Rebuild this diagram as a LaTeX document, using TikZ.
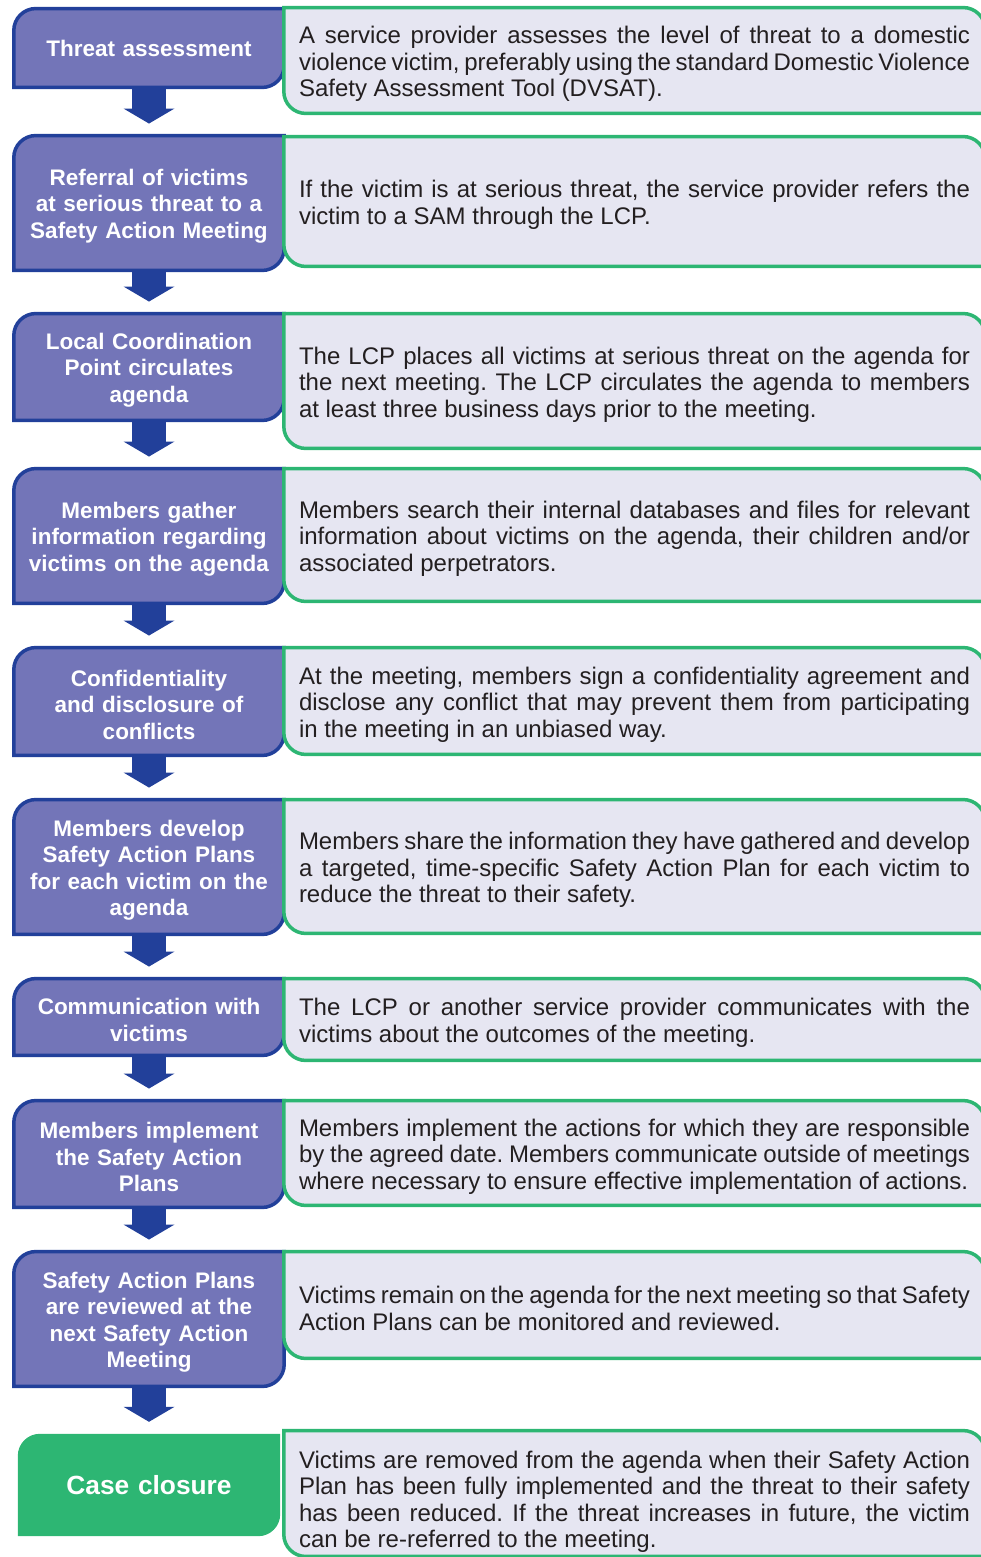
\documentclass[tikz,border=0pt]{standalone}
\usepackage{fontspec}
\setmainfont{Liberation Sans}
\usepackage{xcolor}
\usetikzlibrary{arrows.meta,backgrounds}

\definecolor{stepfill}{HTML}{7375B8}
\definecolor{stepline}{HTML}{22409A}
\definecolor{descfill}{HTML}{E6E6F2}
\definecolor{descline}{HTML}{2DB673}
\definecolor{desctext}{HTML}{231F20}

\hyphenpenalty=10000
\exhyphenpenalty=10000
\frenchspacing

\begin{document}
\begin{tikzpicture}[
    x=1pt, y=-1pt,
    stepbase/.style={minimum width=270pt, inner xsep=4pt, inner ysep=0pt, text width=262pt,
      text=white, font=\bfseries\fontsize{22.5}{26.5}\selectfont, align=center},
    stepbox/.style={stepbase, execute at begin node=\rule{0pt}{1em}},
    closebox/.style={stepbase, minimum width=262pt, text width=254pt,
      font=\bfseries\fontsize{26.3}{30}\selectfont},
    descbox/.style={minimum width=701pt, inner xsep=15pt, inner ysep=0pt, text width=671pt,
      text=desctext, font=\fontsize{24}{26.5}\selectfont, align=justify,
      execute at begin node=\rule{0pt}{1em}},
    stepedge/.style={draw=stepline, fill=stepfill, line width=3.5pt},
    descedge/.style={draw=descline, fill=descfill, line width=3.5pt},
    flowarrow/.style={draw, color=stepline, line width=34pt, shorten >=12pt,
      -{Triangle[width=51pt, length=15pt, line width=0pt]}}
  ]
  \useasboundingbox (0,0) rectangle (980,1557);

  % steps (left column)
  \node[stepbase, minimum height=78.5pt] (s1) at (149,48) {Threat assessment};
  \node[stepbox, minimum height=134.5pt] (s2) at (149,203) {Referral of victims\\at serious threat to a\\Safety Action Meeting};
  \node[stepbox, minimum height=106.5pt] (s3) at (149,367) {Local Coordination\\Point circulates\\agenda};
  \node[stepbox, minimum height=134.5pt] (s4) at (149,536) {Members gather\\information regarding\\victims on the agenda};
  \node[stepbox, minimum height=107.5pt] (s5) at (149,701.5) {Confidentiality\\and disclosure of\\conflicts};
  \node[stepbox, minimum height=134.5pt] (s6) at (149,867) {Members develop\\Safety Action Plans\\for each victim on the\\agenda};
  \node[stepbox, minimum height=76.5pt] (s7) at (149,1017) {Communication with\\victims};
  \node[stepbox, minimum height=106.5pt] (s8) at (149,1154) {Members implement\\the Safety Action\\Plans};
  \node[stepbox, minimum height=134.5pt] (s9) at (149,1319) {Safety Action Plans\\are reviewed at the\\next Safety Action\\Meeting};
  \node[closebox, minimum height=102pt] (s10) at (149,1485) {Case closure};

  % descriptions (right column)
  \node[descbox, minimum height=105.5pt] (d1) at (634.5,60.5) {A service provider assesses the level of threat to a domestic\linebreak violence victim, preferably using the standard Domestic Violence\linebreak Safety Assessment Tool (DVSAT).};
  \node[descbox, minimum height=129.5pt] (d2) at (634.5,201.5) {If the victim is at serious threat, the service provider refers the\linebreak victim to a SAM through the LCP.};
  \node[descbox, minimum height=134.5pt] (d3) at (634.5,381) {The LCP places all victims at serious threat on the agenda for\linebreak the next meeting. The LCP circulates the agenda to members\linebreak at least three business days prior to the meeting.};
  \node[descbox, minimum height=132.5pt] (d4) at (634.5,535) {Members search their internal databases and files for relevant\linebreak information about victims on the agenda, their children and/or\linebreak associated perpetrators.};
  \node[descbox, minimum height=106.5pt] (d5) at (634.5,701) {At the meeting, members sign a confidentiality agreement and\linebreak disclose any conflict that may prevent them from participating\linebreak in the meeting in an unbiased way.};
  \node[descbox, minimum height=133.5pt] (d6) at (634.5,866.5) {Members share the information they have gathered and develop\linebreak a targeted, time-specific Safety Action Plan for each victim to\linebreak reduce the threat to their safety.};
  \node[descbox, minimum height=81.5pt] (d7) at (634.5,1019.5) {The LCP or another service provider communicates with the\linebreak victims about the outcomes of the meeting.};
  \node[descbox, minimum height=104.5pt] (d8) at (634.5,1153) {Members implement the actions for which they are responsible\linebreak by the agreed date. Members communicate outside of meetings\linebreak where necessary to ensure effective implementation of actions.};
  \node[descbox, minimum height=106.5pt] (d9) at (634.5,1305) {Victims remain on the agenda for the next meeting so that Safety\linebreak Action Plans can be monitored and reviewed.};
  \node[descbox, minimum height=125.5pt, execute at begin node=\rule{0pt}{1.4em}] (d10) at (634.5,1493.5) {Victims are removed from the agenda when their Safety Action\linebreak Plan has been fully implemented and the threat to their safety\linebreak has been reduced. If the threat increases in future, the victim\linebreak can be re-referred to the meeting.};

  % box outlines
  \begin{pgfonlayer}{background}
    \foreach \i in {1,...,9}
      \draw[stepedge] (s\i.south west) -- ([yshift=-22pt]s\i.north west)
        arc[start angle=180, end angle=90, radius=22pt] -- (s\i.north east)
        -- ([yshift=22pt]s\i.south east) arc[start angle=0, end angle=-90, radius=22pt] -- cycle;
    \fill[descline] (s10.south west) -- ([yshift=-22pt]s10.north west)
      arc[start angle=180, end angle=90, radius=22pt] -- (s10.north east)
      -- ([yshift=22pt]s10.south east) arc[start angle=0, end angle=-90, radius=22pt] -- cycle;
    \foreach \i in {1,...,10}
      \draw[descedge] (d\i.north west) -- ([xshift=-22pt]d\i.north east)
        arc[start angle=90, end angle=0, radius=22pt] -- (d\i.south east)
        -- ([xshift=22pt]d\i.south west) arc[start angle=270, end angle=180, radius=22pt] -- cycle;
  \end{pgfonlayer}

  % flow arrows
  \path[flowarrow] (s1) edge (s2);
  \path[flowarrow] (s2) edge (s3);
  \path[flowarrow] (s3) edge (s4);
  \path[flowarrow] (s4) edge (s5);
  \path[flowarrow] (s5) edge (s6);
  \path[flowarrow] (s6) edge (s7);
  \path[flowarrow] (s7) edge (s8);
  \path[flowarrow] (s8) edge (s9);
  \path[flowarrow] (s9) edge (s10);
\end{tikzpicture}
\end{document}
